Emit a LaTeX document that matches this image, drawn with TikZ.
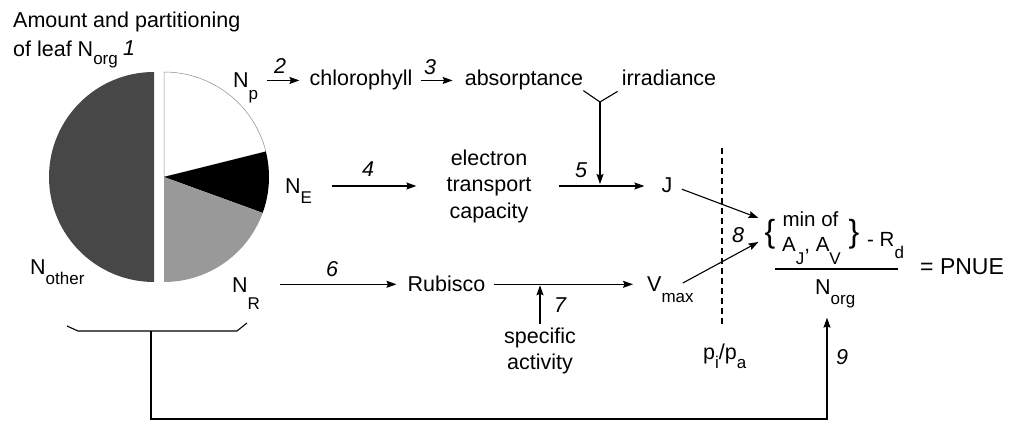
\documentclass[tikz,border=0pt]{standalone}
\usepackage{fontspec}
\setmainfont{Liberation Sans}
\usetikzlibrary{arrows.meta}
\newcommand{\subtxt}[2][10pt]{\raisebox{-#1}{\fontsize{17}{17}\selectfont #2}}

\begin{document}
\begin{tikzpicture}[x=1pt, y=1pt,
  txt/.style={font=\fontsize{21.5}{26.5}\selectfont, inner sep=0pt},
  num/.style={font=\fontsize{21.5}{26.5}\selectfont\itshape, inner sep=0pt},
  frac/.style={font=\fontsize{20.5}{24}\selectfont, inner sep=0pt},
  brc/.style={font=\fontsize{32}{32}\selectfont, inner sep=0pt},
  arr/.style={draw, line width=1.1pt, -{Stealth[length=10pt, width=7pt, inset=1.5pt]}},
  ln/.style={draw, line width=1.1pt}]
\useasboundingbox (0,0) rectangle (1013,422);

% pie of leaf N
\fill[black!72] (154,350) arc[start angle=90, end angle=270, radius=105] -- cycle;
\filldraw[fill=white, draw=black!45, line width=0.5pt] (164,245) -- (164,350) arc[start angle=90, end angle=14, radius=105] -- cycle;
\begin{scope}[shift={(164,245)}]
\fill[black] (0,0) -- (14:105) arc[start angle=14, end angle=-20, radius=105] -- cycle;
\fill[black!40] (0,0) -- (-20:105) arc[start angle=-20, end angle=-90, radius=105] -- cycle;
\end{scope}

\node[txt, anchor=base west] (title) at (13,394) {Amount and partitioning};
\node[txt, anchor=base west] (leaf) at (13,365) {of leaf N\subtxt[8pt]{org}};
\node[num, anchor=base west] (1) at (123,366) {1};

\node[txt, anchor=base west] (np) at (233,334) {N\subtxt[12pt]{p}};
\node[txt, anchor=base west] (ne) at (285,228) {N\subtxt{E}};
\node[txt, anchor=base west] (nr) at (232,129) {N\subtxt[17pt]{R}};
\node[txt, anchor=base west] (no) at (30,147) {N\subtxt{other}};

% top row
\node[txt, anchor=base] (chl) at (361,336) {chlorophyll};
\node[txt, anchor=base] (abs) at (524,336) {absorptance};
\node[txt, anchor=base] (irr) at (669,336) {irradiance};
\node[num] (2) at (280,356) {2};
\node[num] (3) at (430,355) {3};
\coordinate (fork) at (600,320);

% middle row
\node[txt, align=center] (etc) at (489,236) {electron\\transport\\capacity};
\node[txt, anchor=base] (j) at (667,229) {J};
\node[num] (4) at (368,253) {4};
\node[num] (5) at (581,252) {5};

% bottom row
\node[txt, anchor=base] (rub) at (446.5,130) {Rubisco};
\node[txt, anchor=base west] (vmax) at (647,130) {V\subtxt[11pt]{max}};
\node[txt, align=center] (spa) at (540,71) {specific\\activity};
\node[num] (6) at (332,153) {6};
\node[num] (7) at (560,117) {7};

% PNUE
\node[brc] (lbr) at (770,188) {\{};
\node[brc] (rbr) at (854,188) {\}};
\node[frac, anchor=base] (minof) at (810.5,195) {min of};
\node[frac, anchor=base west] (ajav) at (782,170) {A\subtxt[13pt]{J}, A\subtxt[13pt]{V}};
\node[frac, anchor=base west] (rd) at (867,175) {- R\subtxt[12pt]{d}};
\coordinate (barl) at (775,153);
\coordinate (barr) at (898,153);
\node[txt, anchor=base west] (norg) at (815,127) {N\subtxt{org}};
\node[txt, anchor=base west, font=\fontsize{23}{26}\selectfont] (pnue) at (920,147) {= PNUE};
\node[txt, anchor=base west] (pipa) at (703,62) {p\subtxt[9pt]{i}/p\subtxt[9pt]{a}};
\coordinate (dtop) at (722,274);
\node[num] (8) at (738,187) {8};
\node[num] (9) at (842,65) {9};

% feedback
\coordinate (brk) at (151,91);
\coordinate (fb) at (827,3);

\path[arr, shorten <=9pt, shorten >=10pt] (np.east |- chl.west) -- (chl.west);
\path[arr, shorten <=8pt, shorten >=12pt] (chl) -- (abs);
\path[ln] (abs.south east) -- (fork) -- ([xshift=-4pt, yshift=-5pt]irr.south west);
\path[arr, shorten >=2pt] (fork) -- (fork |- etc.east);
\path[arr, shorten <=20pt, shorten >=30pt] (ne.east |- etc.west) -- (etc.west);
\path[arr, shorten <=27pt, shorten >=17pt] (etc.east) -- (etc.east -| j.west);
\path[arr, shorten <=20pt, shorten >=11pt] (nr.east |- rub.west) -- (rub.west);
\path[arr, shorten <=8pt, shorten >=14pt] (rub.east) -- (rub.east -| vmax.west);
\path[arr, shorten <=4pt, shorten >=1pt] (spa.north) -- (spa.north |- rub.east);
\path[arr, shorten <=10pt] (j.east) -- ([xshift=-6pt, yshift=16pt]lbr.west);
\path[arr] ([xshift=-11pt, yshift=-6pt]vmax.north east) -- ([xshift=-6pt, yshift=-8pt]lbr.west);
\path[ln] (barl) -- (barr);
\path[draw, line width=1.1pt, dash pattern=on 6pt off 4pt] (dtop) -- ([yshift=17pt]dtop |- pipa.north);
\path[ln] (67,96) -- (78,91) -- (237,91) -- (247,99);
\path[arr] (brk) |- (fb) -- ([xshift=12pt, yshift=-9pt]norg.south west);
\end{tikzpicture}
\end{document}
